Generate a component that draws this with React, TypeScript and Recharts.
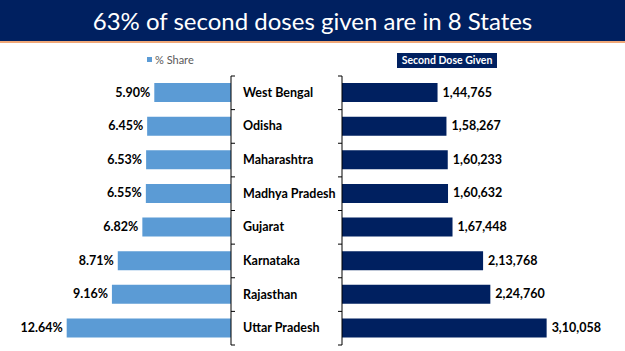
import React from "react";
import { Bar, BarChart, LabelList, XAxis, YAxis } from "recharts";

// 州別の2回目接種データ
const states = [
  "West Bengal",
  "Odisha",
  "Maharashtra",
  "Madhya Pradesh",
  "Gujarat",
  "Karnataka",
  "Rajasthan",
  "Uttar Pradesh",
];
const shares = [5.9, 6.45, 6.53, 6.55, 6.82, 8.71, 9.16, 12.64];
const doses = [144765, 158267, 160233, 160632, 167448, 213768, 224760, 310058];

const NAVY = "#002060";
const LIGHT_BLUE = "#5B9BD5";
const FONT = "Lato, 'Open Sans', sans-serif";
const PLOT_TOP = 76;
const PLOT_BOTTOM = 6;
const CHART_H = 351;
const PLOT_H = CHART_H - PLOT_TOP - PLOT_BOTTOM;

const rows = states.map((state, i) => ({ state, share: shares[i], dose: doses[i] }));

// インド式の桁区切り (1,44,765)
const formatIndian = (n: number) => {
  const s = String(Math.round(n));
  if (s.length <= 3) return s;
  const last3 = s.slice(-3);
  let rest = s.slice(0, -3);
  const parts: string[] = [];
  while (rest.length > 2) {
    parts.unshift(rest.slice(-2));
    rest = rest.slice(0, -2);
  }
  if (rest) parts.unshift(rest);
  return `${parts.join(",")},${last3}`;
};

const BoundaryTicks = ({ x, y, index, dir }: any) => {
  const step = PLOT_H / states.length;
  const top = y - step / 2;
  const bottom = y + step / 2;
  return (
    <g>
      <line x1={x} x2={x + dir * 4} y1={top} y2={top} stroke="#000" strokeWidth={1} />
      {index === states.length - 1 && (
        <line x1={x} x2={x + dir * 4} y1={bottom} y2={bottom} stroke="#000" strokeWidth={1} />
      )}
    </g>
  );
};

const StateTick = (props: any) => {
  const { x, y, payload } = props;
  return (
    <g>
      <BoundaryTicks {...props} dir={1} />
      <text x={x + 12} y={y} dy={4} textAnchor="start" fontSize={12.5} fontWeight={700} fill="#000" fontFamily={FONT}>
        {payload.value}
      </text>
    </g>
  );
};

const RightTick = (props: any) => <BoundaryTicks {...props} dir={-1} />;

const ShareLabel = ({ x, y, width, height, value }: any) => {
  const left = Math.min(x, x + width);
  return (
    <text x={left - 4} y={y + height / 2} dy={4} textAnchor="end" fontSize={12.5} fontWeight={700} fill="#000" fontFamily={FONT}>
      {`${Number(value).toFixed(2)}%`}
    </text>
  );
};

const DoseLabel = ({ x, y, width, height, value }: any) => (
  <text x={x + width + 5} y={y + height / 2} dy={4} textAnchor="start" fontSize={12.5} fontWeight={700} fill="#000" fontFamily={FONT}>
    {formatIndian(Number(value))}
  </text>
);

export default function App() {
  return (
    <div
      style={{
        position: "absolute",
        top: 0,
        left: 0,
        width: 625,
        height: 351,
        background: "#fff",
        fontFamily: FONT,
        overflow: "hidden",
      }}
    >
      <div
        style={{
          height: 41,
          background: NAVY,
          borderBottom: "2px solid #F0A878",
          color: "#fff",
          fontSize: 24,
          lineHeight: "41px",
          textAlign: "center",
        }}
      >
        63% of second doses given are in 8 States
      </div>

      {/* 凡例 */}
      <div style={{ position: "absolute", left: 147, top: 53, display: "flex", alignItems: "center", fontSize: 11, color: "#595959" }}>
        <span style={{ display: "inline-block", width: 5, height: 5, background: LIGHT_BLUE, marginRight: 3 }} />
        % Share
      </div>
      <div
        style={{
          position: "absolute",
          left: 397,
          top: 53,
          width: 100,
          height: 15,
          background: NAVY,
          color: "#fff",
          fontSize: 10.5,
          fontWeight: 700,
          lineHeight: "15px",
          textAlign: "center",
        }}
      >
        Second Dose Given
      </div>

      <div style={{ position: "absolute", left: 0, top: 0 }}>
        <BarChart width={340} height={CHART_H} data={rows} layout="vertical" margin={{ top: PLOT_TOP, bottom: PLOT_BOTTOM, left: 23, right: 0 }}>
          <XAxis type="number" domain={[0, 16]} reversed hide />
          <YAxis
            type="category"
            dataKey="state"
            orientation="right"
            width={109}
            axisLine={{ stroke: "#000" }}
            tickLine={false}
            tickSize={0}
            tickMargin={0}
            tick={<StateTick />}
            interval={0}
          />
          <Bar dataKey="share" fill={LIGHT_BLUE} barSize={19} isAnimationActive={false}>
            <LabelList dataKey="share" content={<ShareLabel />} />
          </Bar>
        </BarChart>
      </div>

      <div style={{ position: "absolute", left: 330, top: 0 }}>
        <BarChart width={295} height={CHART_H} data={rows} layout="vertical" margin={{ top: PLOT_TOP, bottom: PLOT_BOTTOM, left: 2, right: 19 }}>
          <XAxis type="number" domain={[0, 400000]} hide />
          <YAxis
            type="category"
            dataKey="state"
            width={10}
            axisLine={{ stroke: "#000" }}
            tickLine={false}
            tickSize={0}
            tickMargin={0}
            tick={<RightTick />}
            interval={0}
          />
          <Bar dataKey="dose" fill={NAVY} barSize={19} isAnimationActive={false}>
            <LabelList dataKey="dose" content={<DoseLabel />} />
          </Bar>
        </BarChart>
      </div>
    </div>
  );
}
